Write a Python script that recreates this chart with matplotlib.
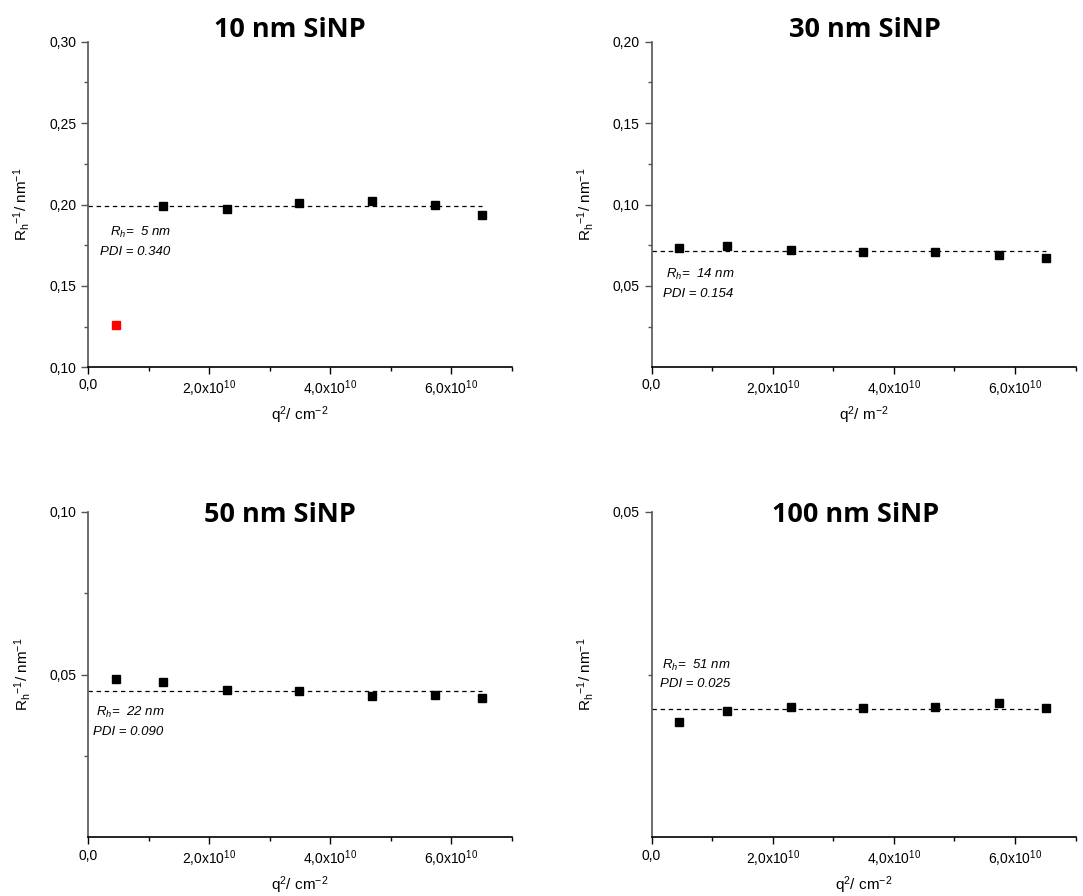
import matplotlib.pyplot as plt
from matplotlib.ticker import FixedLocator, FuncFormatter

plt.rcParams['font.family'] = ['Liberation Sans', 'DejaVu Sans']
plt.rcParams['mathtext.default'] = 'regular'

# scattering vector squared, same angles for every sample
q2 = [0.46e10, 1.24e10, 2.30e10, 3.49e10, 4.68e10, 5.73e10, 6.51e10]

titles = ["10 nm SiNP", "30 nm SiNP", "50 nm SiNP", "100 nm SiNP"]
inv_rh_10 = [0.126, 0.199, 0.1975, 0.201, 0.202, 0.200, 0.1934]
inv_rh_30 = [0.0734, 0.0744, 0.0718, 0.0709, 0.0707, 0.0691, 0.0672]
inv_rh_50 = [0.0486, 0.0476, 0.0454, 0.0449, 0.0435, 0.0436, 0.0427]
inv_rh_100 = [0.0178, 0.0194, 0.0201, 0.0198, 0.0200, 0.0207, 0.0199]
inv_rh = [inv_rh_10, inv_rh_30, inv_rh_50, inv_rh_100]

# mean 1/Rh (dashed line) and the fit results
mean_inv_rh = [0.199, 0.0712, 0.0451, 0.0197]
rh_nm = ["5", "14", "22", "51"]
pdi = ["0.340", "0.154", "0.090", "0.025"]

# first point of the 10 nm sample is left out of the mean
excluded = [[0], [], [], []]

xlabels = ["q$^2$/ cm$^{-2}$", "q$^2$/ m$^{-2}$", "q$^2$/ cm$^{-2}$", "q$^2$/ cm$^{-2}$"]
ylims = [(0.10, 0.30), (0.0, 0.20), (0.0, 0.10), (0.0, 0.05)]
ymajor = [[0.10, 0.15, 0.20, 0.25, 0.30], [0.05, 0.10, 0.15, 0.20], [0.05, 0.10], [0.05]]
yminor = [[0.125, 0.175, 0.225, 0.275], [0.025, 0.075, 0.125, 0.175], [0.025, 0.075], [0.025]]

fig = plt.figure(figsize=(10.83, 8.96), dpi=100)

axes_pos = [[0.0813, 0.590, 0.3915, 0.3635],
            [0.6016, 0.590, 0.3915, 0.3635],
            [0.0813, 0.0653, 0.3915, 0.3636],
            [0.6016, 0.0653, 0.3915, 0.3636]]
title_pos = [(0.2675, 0.959), (0.7983, 0.959), (0.2585, 0.4177), (0.7902, 0.4177)]
note_pos = [[(0.123, 0.4155), (0.111, 0.355)],
            [(0.1156, 0.2856), (0.111, 0.224)],
            [(0.099, 0.384), (0.094, 0.323)],
            [(0.1066, 0.529), (0.1026, 0.470)]]


def ytick_fmt(v, pos):
    return ("%.2f" % v).replace(".", ",")


def xtick_fmt(v, pos):
    if v == 0:
        return "0,0"
    return ("%.1f" % (v / 1e10)).replace(".", ",") + "x10$^{10}$"


for i in range(4):
    ax = fig.add_axes(axes_pos[i])
    y = inv_rh[i]
    for j in range(len(q2)):
        c = "red" if j in excluded[i] else "black"
        ax.plot(q2[j], y[j], "s", color=c, markersize=5.2, clip_on=False)
    ax.plot([0, q2[-1]], [mean_inv_rh[i], mean_inv_rh[i]], color="black",
            linewidth=0.9, dashes=(3.5, 3))

    ax.set_xlim(0, 7e10)
    ax.set_ylim(ylims[i])
    ax.xaxis.set_major_locator(FixedLocator([0, 2e10, 4e10, 6e10]))
    ax.xaxis.set_minor_locator(FixedLocator([1e10, 3e10, 5e10, 7e10]))
    ax.yaxis.set_major_locator(FixedLocator(ymajor[i]))
    ax.yaxis.set_minor_locator(FixedLocator(yminor[i]))
    ax.xaxis.set_major_formatter(FuncFormatter(xtick_fmt))
    ax.yaxis.set_major_formatter(FuncFormatter(ytick_fmt))

    for s in ["top", "right"]:
        ax.spines[s].set_visible(False)
    ax.spines["left"].set_color("#555555")
    ax.spines["left"].set_linewidth(1.2)
    ax.spines["bottom"].set_linewidth(1.2)
    ax.tick_params(axis="both", which="major", direction="out", length=5, width=1,
                   labelsize=10)
    ax.tick_params(axis="both", which="minor", direction="out", length=3, width=1)
    ax.tick_params(axis="y", which="both", color="#555555")
    ax.tick_params(axis="x", which="major", pad=3)

    ax.set_xlabel(xlabels[i], fontsize=11, labelpad=4)
    ax.set_ylabel("R$_h$$^{-1}$/ nm$^{-1}$", fontsize=11, labelpad=12)

    (x1, y1), (x2, y2) = note_pos[i]
    ax.text(x1, y1, "$R_h$=  " + rh_nm[i] + " nm", transform=ax.transAxes,
            ha="center", va="center", fontsize=9.5, style="italic")
    ax.text(x2, y2, "PDI = " + pdi[i], transform=ax.transAxes,
            ha="center", va="center", fontsize=9.5, style="italic")

    fig.text(title_pos[i][0], title_pos[i][1], titles[i], ha="center", va="baseline",
             fontsize=19.5, fontweight="bold", family="Open Sans")

fig.savefig("out.png", dpi=100)
